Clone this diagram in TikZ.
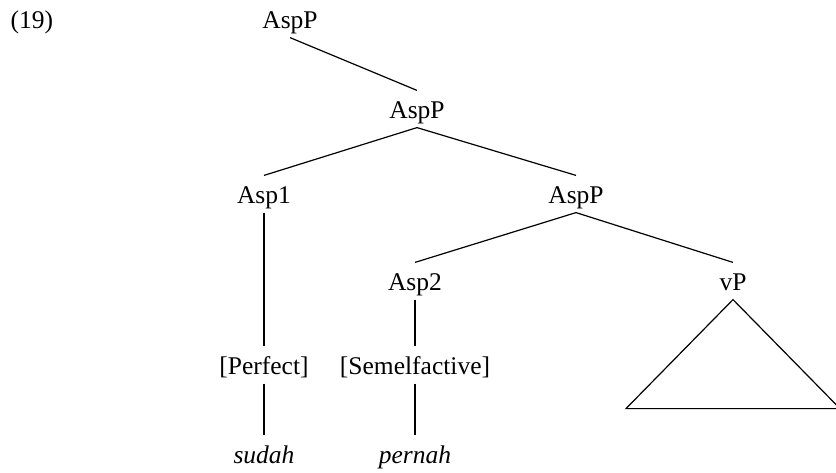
\documentclass[tikz,border=0pt]{standalone}
\usepackage{fontspec}
\setmainfont{Liberation Serif}
\usepackage{tikz}
\begin{document}
\begin{tikzpicture}[x=1pt,y=-1pt,line width=1.2pt]
      \tikzset{every node/.style={anchor=base,inner sep=0pt,text height=27pt,text depth=9pt,font=\fontsize{25.5}{30}\selectfont}}
      \useasboundingbox (0,0) rectangle (836,472);
      \clip (0,0) rectangle (836,472);
      \node[anchor=base west](ex) at (10,28) {(19)};
      \node(root) at (290,28) {AspP};
      \node(asppa) at (417,118) {AspP};
      \node(aspone) at (264,203) {Asp1};
      \node(asppb) at (576,203) {AspP};
      \node(asptwo) at (415,290) {Asp2};
      \node(vp) at (733,290) {vP};
      \node(perfect) at (264,374) {[Perfect]};
      \node(semel) at (415,374) {[Semelfactive]};
      \node(sudah) at (264,463) {\textit{sudah}};
      \node(pernah) at (415,463) {\textit{pernah}};
      \draw (root.south) -- (asppa.north);
      \draw (asppa.south) -- (aspone.north);
      \draw (asppa.south) -- (asppb.north);
      \draw (asppb.south) -- (asptwo.north);
      \draw (asppb.south) -- (vp.north);
      \draw (aspone.south) -- (perfect.north);
      \draw (perfect.south) -- (sudah.north);
      \draw (asptwo.south) -- (semel.north);
      \draw (semel.south) -- (pernah.north);
      \draw (vp.south) -- ++(-107,109) -- ++(214,0) -- cycle;
    \end{tikzpicture}
\end{document}
